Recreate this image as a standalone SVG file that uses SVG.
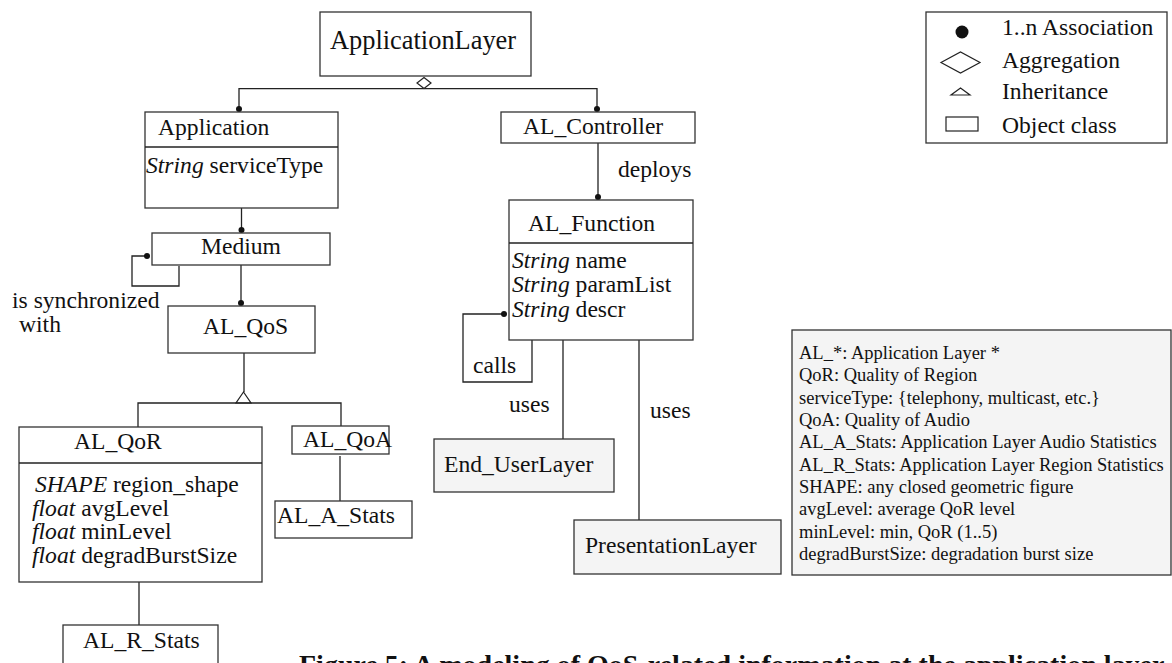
<svg xmlns="http://www.w3.org/2000/svg" width="1172" height="663" viewBox="0 0 1172 663">
<style>
text{font-family:"Liberation Serif","Times New Roman",serif;font-size:23.6px;fill:#111}
.box{fill:#fff;stroke:#333;stroke-width:1.3}
.gbox{fill:#f4f4f4;stroke:#333;stroke-width:1.3}
.ln{fill:none;stroke:#222;stroke-width:1.3}
.dot{fill:#111}
.it{font-style:italic}
.gl{font-size:18.5px}
.big{font-size:26.4px}
.cap{font-weight:bold;font-size:28px}
</style>
<rect width="1172" height="663" fill="#fff"/>

<g id="connectors">
  <polyline class="ln" points="239,108 239,88.7 597,88.7 597,108"/>
  <polygon points="424,77.5 431,83 424,88.5 417,83" fill="#fff" stroke="#222" stroke-width="1.2"/>
  <circle class="dot" cx="239" cy="109" r="3"/>
  <circle class="dot" cx="597" cy="109" r="3"/>
  <line class="ln" x1="241.5" y1="208" x2="241.5" y2="230"/>
  <circle class="dot" cx="241.5" cy="230" r="3"/>
  <polyline class="ln" points="147,256 132,256 132,286 179,286 179,266"/>
  <circle class="dot" cx="147" cy="256" r="3"/>
  <line class="ln" x1="241" y1="265" x2="241" y2="303"/>
  <circle class="dot" cx="241" cy="303" r="3"/>
  <line class="ln" x1="244" y1="353" x2="244" y2="392"/>
  <polygon points="236,403 251,403 243.5,392" fill="#fff" stroke="#222" stroke-width="1.2"/>
  <polyline class="ln" points="138,427 138,403 341,403 341,426"/>
  <line class="ln" x1="340" y1="456" x2="340" y2="501"/>
  <line class="ln" x1="139" y1="582" x2="139" y2="625"/>
  <line class="ln" x1="598" y1="143" x2="598" y2="197"/>
  <circle class="dot" cx="598" cy="197" r="3"/>
  <polyline class="ln" points="504,314 463,314 463,382 532,382 532,340"/>
  <circle class="dot" cx="504" cy="314" r="3"/>
  <line class="ln" x1="563" y1="340" x2="563" y2="439"/>
  <line class="ln" x1="639" y1="340" x2="639" y2="520"/>
  <text x="618" y="177">deploys</text>
  <text x="12" y="308">is synchronized</text>
  <text x="19" y="332">with</text>
  <text x="473" y="373">calls</text>
  <text x="509" y="412">uses</text>
  <text x="650" y="418">uses</text>
</g>

<g id="ApplicationLayer">
  <rect class="box" x="320" y="12" width="211" height="64"/>
  <text class="big" x="330" y="49">ApplicationLayer</text>
</g>

<g id="Application">
  <rect class="box" x="145" y="112" width="193" height="96"/>
  <line class="ln" x1="145" y1="147" x2="338" y2="147"/>
  <text x="158" y="135">Application</text>
  <text x="146" y="173"><tspan class="it">String</tspan> serviceType</text>
</g>

<g id="Medium">
  <rect class="box" x="152" y="233" width="178" height="32"/>
  <text x="201" y="254">Medium</text>
</g>

<g id="AL_QoS">
  <rect class="box" x="168" y="306" width="147" height="47"/>
  <text x="203" y="334">AL_QoS</text>
</g>

<g id="AL_QoR">
  <rect class="box" x="19" y="427" width="243" height="155"/>
  <line class="ln" x1="19" y1="463" x2="262" y2="463"/>
  <text x="74" y="449">AL_QoR</text>
  <text x="35" y="492"><tspan class="it">SHAPE</tspan> region_shape</text>
  <text x="32" y="515.7"><tspan class="it">float</tspan> avgLevel</text>
  <text x="32" y="539.3"><tspan class="it">float</tspan> minLevel</text>
  <text x="32" y="563"><tspan class="it">float</tspan> degradBurstSize</text>
</g>

<g id="AL_QoA">
  <rect class="box" x="292" y="426" width="97" height="28"/>
  <text x="303" y="447">AL_QoA</text>
</g>

<g id="AL_A_Stats">
  <rect class="box" x="275" y="501" width="137" height="37"/>
  <text x="277" y="523">AL_A_Stats</text>
</g>

<g id="AL_R_Stats">
  <rect class="box" x="63" y="625" width="155" height="50"/>
  <text x="83" y="648">AL_R_Stats</text>
</g>

<g id="AL_Controller">
  <rect class="box" x="501" y="112" width="194" height="31"/>
  <text x="523" y="134">AL_Controller</text>
</g>

<g id="AL_Function">
  <rect class="box" x="509" y="200" width="184" height="140"/>
  <line class="ln" x1="509" y1="243" x2="693" y2="243"/>
  <text x="528" y="231">AL_Function</text>
  <text x="512" y="268"><tspan class="it">String</tspan> name</text>
  <text x="512" y="292"><tspan class="it">String</tspan> paramList</text>
  <text x="512" y="317"><tspan class="it">String</tspan> descr</text>
</g>

<g id="End_UserLayer">
  <rect class="gbox" x="434" y="439" width="180" height="53"/>
  <text x="444" y="472">End_UserLayer</text>
</g>

<g id="PresentationLayer">
  <rect class="gbox" x="574" y="520" width="207" height="54"/>
  <text x="585" y="553">PresentationLayer</text>
</g>

<g id="legend">
  <rect class="box" x="926" y="12" width="241" height="131"/>
  <circle cx="962" cy="32" r="6.5" fill="#111"/>
  <polygon points="941,62.5 960.5,52 980,62.5 960.5,73" fill="#fff" stroke="#222" stroke-width="1.2"/>
  <polygon points="951,95 970,95 960.5,88" fill="#fff" stroke="#222" stroke-width="1.2"/>
  <rect x="946" y="117" width="32" height="14" fill="#fff" stroke="#222" stroke-width="1.2"/>
  <text x="1002" y="35">1..n Association</text>
  <text x="1002" y="68">Aggregation</text>
  <text x="1002" y="99">Inheritance</text>
  <text x="1002" y="133">Object class</text>
</g>

<g id="glossary">
  <rect class="gbox" x="792" y="330" width="379" height="245"/>
  <text class="gl" x="799" y="359">AL_*: Application Layer *</text>
  <text class="gl" x="799" y="381.3">QoR: Quality of Region</text>
  <text class="gl" x="799" y="403.7">serviceType: {telephony, multicast, etc.}</text>
  <text class="gl" x="799" y="426">QoA: Quality of Audio</text>
  <text class="gl" x="799" y="448.3">AL_A_Stats: Application Layer Audio Statistics</text>
  <text class="gl" x="799" y="470.7">AL_R_Stats: Application Layer Region Statistics</text>
  <text class="gl" x="799" y="493">SHAPE: any closed geometric figure</text>
  <text class="gl" x="799" y="515.3">avgLevel: average QoR level</text>
  <text class="gl" x="799" y="537.7">minLevel: min, QoR (1..5)</text>
  <text class="gl" x="799" y="560">degradBurstSize: degradation burst size</text>
</g>

<text class="cap" x="299" y="674">Figure 5: A modeling of QoS-related information at the application layer</text>
</svg>
